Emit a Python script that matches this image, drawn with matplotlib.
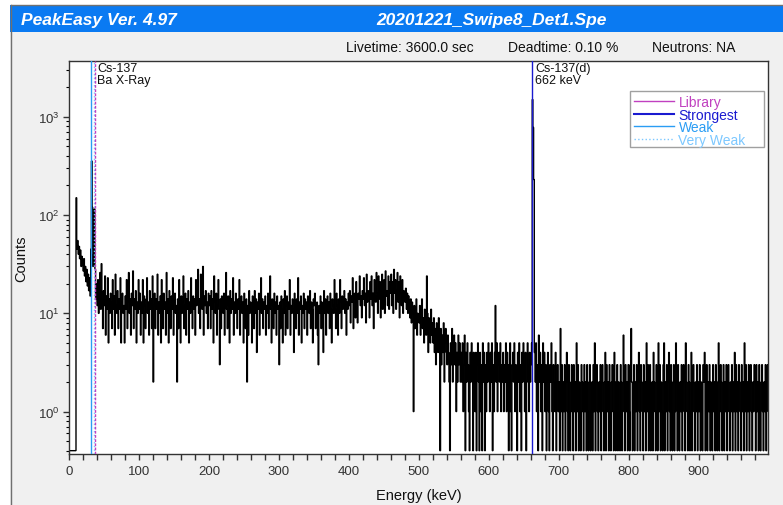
import numpy as np
import matplotlib
matplotlib.use('Agg')
import matplotlib.pyplot as plt
from matplotlib.patches import Rectangle
from matplotlib.lines import Line2D
from matplotlib.ticker import MultipleLocator, LogLocator, NullFormatter

plt.rcParams['font.family'] = ['Liberation Sans', 'DejaVu Sans']

# spectrum, 1 keV per channel (counts)
kev_per_channel = 1
counts_0_100 = [0, 0, 0, 0, 0, 0, 0, 0, 0, 0, 150, 45, 55, 40, 48, 36, 44, 30, 38, 33,
                27, 36, 24, 30, 21, 28, 19, 25, 17, 23, 15, 45, 355, 120, 30, 40, 115, 28, 14, 20,
                12, 22, 10, 16, 26, 11, 32, 14, 7, 17, 12, 24, 6, 15, 11, 23, 5, 14, 10, 16,
                13, 7, 22, 11, 15, 6, 25, 12, 10, 17, 7, 14, 11, 23, 5, 13, 16, 10, 12, 5,
                15, 11, 22, 7, 13, 26, 10, 14, 6, 16, 12, 27, 7, 14, 11, 17, 5, 13, 10, 22]
counts_100_200 = [11, 16, 6, 13, 10, 22, 5, 15, 12, 7, 14, 23, 10, 13, 6, 17, 11, 14, 7, 24,
                  2, 12, 16, 7, 14, 11, 25, 6, 13, 10, 15, 5, 22, 12, 7, 16, 11, 13, 6, 26,
                  10, 14, 5, 17, 12, 7, 15, 11, 23, 6, 13, 16, 10, 12, 2, 14, 7, 22, 11, 5,
                  15, 10, 13, 24, 7, 12, 16, 6, 14, 11, 17, 5, 13, 10, 23, 12, 7, 15, 11, 14,
                  6, 22, 12, 16, 28, 10, 14, 7, 25, 13, 11, 30, 6, 15, 12, 17, 10, 13, 7, 16]
counts_200_300 = [12, 15, 7, 17, 11, 14, 5, 24, 13, 10, 16, 6, 12, 22, 11, 3, 14, 7, 15, 12,
                  10, 16, 6, 13, 26, 11, 7, 15, 12, 5, 17, 10, 14, 11, 23, 6, 13, 10, 16, 12,
                  7, 14, 11, 22, 6, 12, 15, 10, 13, 5, 16, 11, 7, 14, 2, 12, 6, 17, 10, 13,
                  11, 5, 15, 12, 7, 17, 10, 14, 4, 13, 11, 16, 6, 12, 23, 10, 14, 7, 13, 11,
                  15, 6, 12, 10, 16, 7, 13, 24, 11, 5, 14, 12, 7, 16, 10, 13, 6, 15, 11, 12]
counts_300_400 = [3, 13, 7, 15, 11, 5, 14, 10, 17, 6, 12, 15, 7, 13, 11, 22, 6, 12, 10, 14,
                  11, 4, 16, 12, 7, 14, 10, 23, 6, 13, 11, 15, 5, 12, 10, 16, 7, 14, 11, 13,
                  6, 15, 12, 10, 17, 7, 13, 11, 5, 14, 12, 16, 7, 11, 13, 6, 3, 12, 10, 15,
                  7, 13, 11, 4, 17, 10, 14, 6, 12, 15, 10, 13, 7, 16, 11, 5, 14, 12, 10, 22,
                  11, 7, 16, 12, 6, 14, 10, 22, 13, 7, 15, 11, 12, 17, 10, 14, 6, 13, 11, 16]
counts_400_500 = [12, 17, 8, 15, 13, 23, 7, 14, 16, 9, 21, 13, 8, 16, 14, 24, 12, 15, 9, 17,
                  14, 23, 12, 16, 8, 25, 13, 17, 15, 9, 21, 14, 24, 12, 16, 7, 22, 15, 13, 26,
                  16, 10, 24, 14, 21, 9, 17, 25, 11, 16, 22, 10, 27, 15, 17, 12, 24, 11, 21, 16,
                  25, 12, 21, 10, 28, 16, 22, 11, 17, 26, 13, 21, 9, 24, 16, 12, 22, 10, 17, 15,
                  13, 18, 11, 16, 10, 15, 12, 9, 14, 8, 13, 10, 1, 12, 7, 11, 14, 6, 10, 9]
counts_500_600 = [8, 12, 6, 10, 14, 7, 9, 5, 11, 7, 6, 24, 10, 4, 9, 7, 5, 11, 6, 8,
                  5, 9, 4, 7, 3, 8, 6, 4, 9, 5, 0, 7, 3, 6, 4, 8, 2, 5, 7, 4,
                  3, 6, 4, 2, 0, 5, 3, 7, 2, 4, 6, 3, 5, 1, 4, 2, 6, 3, 5, 2,
                  4, 2, 5, 1, 3, 6, 0, 4, 2, 5, 3, 1, 0, 4, 2, 5, 3, 0, 4, 2,
                  1, 4, 0, 3, 5, 2, 0, 4, 1, 3, 0, 5, 2, 4, 0, 3, 1, 4, 2, 5]
counts_600_700 = [3, 1, 4, 2, 5, 0, 3, 1, 4, 12, 2, 5, 1, 3, 4, 2, 5, 1, 3, 2,
                  4, 1, 3, 2, 5, 1, 4, 3, 0, 2, 5, 1, 0, 3, 4, 2, 5, 1, 3, 2,
                  0, 4, 2, 5, 1, 3, 0, 4, 2, 5, 3, 1, 4, 0, 2, 5, 3, 1, 4, 2,
                  3, 5, 1500, 780, 230, 4, 2, 5, 1, 3, 0, 6, 2, 4, 1, 3, 0, 5, 2, 4,
                  1, 3, 0, 2, 4, 1, 0, 3, 2, 5, 1, 0, 3, 2, 1, 4, 0, 2, 3, 1]
counts_700_800 = [2, 0, 7, 1, 3, 0, 2, 1, 3, 0, 2, 4, 1, 0, 3, 2, 0, 1, 3, 2,
                  0, 3, 1, 2, 0, 5, 1, 3, 0, 2, 1, 0, 3, 2, 1, 0, 3, 1, 2, 0,
                  3, 1, 0, 2, 3, 0, 1, 2, 0, 3, 1, 5, 0, 2, 3, 1, 0, 2, 1, 3,
                  0, 2, 3, 1, 0, 2, 4, 0, 3, 1, 2, 0, 3, 1, 0, 2, 3, 1, 0, 4,
                  2, 0, 1, 3, 0, 2, 1, 0, 3, 2, 0, 1, 6, 2, 0, 3, 1, 2, 0, 3]
counts_800_900 = [1, 0, 3, 7, 2, 0, 1, 3, 0, 2, 1, 3, 0, 2, 4, 1, 0, 3, 2, 1,
                  0, 3, 1, 2, 0, 5, 1, 3, 0, 2, 3, 0, 1, 2, 0, 4, 2, 1, 0, 3,
                  2, 0, 5, 1, 3, 0, 2, 1, 0, 3, 5, 0, 2, 1, 3, 0, 2, 4, 1, 0,
                  3, 1, 0, 2, 3, 0, 1, 5, 2, 0, 3, 1, 0, 2, 1, 3, 0, 2, 3, 1,
                  0, 5, 2, 1, 0, 3, 2, 0, 1, 4, 0, 2, 3, 1, 0, 2, 1, 3, 0, 2]
counts_900_1000 = [1, 3, 0, 2, 1, 0, 3, 2, 4, 0, 1, 3, 0, 2, 1, 3, 0, 2, 1, 0,
                   3, 1, 2, 0, 3, 1, 0, 2, 5, 0, 1, 3, 2, 0, 1, 3, 0, 2, 1, 3,
                   0, 2, 3, 1, 0, 2, 1, 3, 0, 2, 1, 4, 0, 3, 1, 2, 0, 3, 2, 1,
                   0, 3, 1, 2, 0, 5, 1, 3, 0, 2, 1, 3, 0, 2, 3, 1, 0, 2, 1, 3,
                   2, 0, 3, 1, 2, 0, 3, 1, 0, 2, 3, 1, 0, 2, 1, 3, 0, 2, 3, 1]

# marker lines (keV)
weak_lines = [32.0]
very_weak_lines = [35.8]
library_lines = [36.8]
strongest_lines = [661.7]

peak_labels = ['Cs-137\nBa X-Ray', 'Cs-137(d)\n662 keV']
peak_label_kev = [40, 666]

info_texts = ['Livetime: 3600.0 sec', 'Deadtime: 0.10 %', 'Neutrons: NA']

W, H = 783, 506
def fx(x):
    return x / W
def fy(y):
    return 1 - y / H

counts = np.array(counts_0_100 + counts_100_200 + counts_200_300 + counts_300_400 +
                  counts_400_500 + counts_500_600 + counts_600_700 + counts_700_800 +
                  counts_800_900 + counts_900_1000, dtype=float)
edges = np.arange(len(counts) + 1) * kev_per_channel
# PeakEasy draws empty channels just above the bottom of the axis
plot_counts = np.where(counts > 0, counts, 0.4)

fig = plt.figure(figsize=(W / 100, H / 100), dpi=100)
fig.patch.set_facecolor('white')

# window panel, title bar, border
fig.patches.append(Rectangle((fx(10), 0), 1 - fx(10), fy(33), transform=fig.transFigure,
                             facecolor='#f0f0f0', edgecolor='none', zorder=-10))
fig.patches.append(Rectangle((fx(10), fy(33)), 1 - fx(10), 27 / H, transform=fig.transFigure,
                             facecolor='#0a7af2', edgecolor='none', zorder=-10))
fig.lines.append(Line2D([fx(10.5), fx(10.5)], [0, fy(6)], transform=fig.transFigure,
                        color='#707070', lw=1, zorder=-5))
fig.lines.append(Line2D([fx(10.5), 1], [fy(6), fy(6)], transform=fig.transFigure,
                        color='#707070', lw=1, zorder=-5))

fig.text(fx(21), fy(20), 'PeakEasy Ver. 4.97', color='white', fontsize=12.5,
         fontweight='bold', style='italic', va='center', ha='left')
fig.text(fx(491), fy(20), '20201221_Swipe8_Det1.Spe', color='white', fontsize=12.5,
         fontweight='bold', style='italic', va='center', ha='center')
for t, x in zip(info_texts, [410, 563, 694]):
    fig.text(fx(x), fy(48), t, fontsize=10, va='center', ha='center', color='#111111')

ax = fig.add_axes([fx(69), fy(455), (768 - 69) / W, (455 - 62) / H])
ax.set_facecolor('white')
ax.stairs(plot_counts, edges, baseline=None, color='black', lw=1.0, zorder=2)

for e in weak_lines:
    ax.axvline(e, color='#2a9df4', lw=1, zorder=3)
for e in very_weak_lines:
    ax.axvline(e, color='#7cc8ff', lw=1, ls=':', zorder=3)
for e in library_lines:
    ax.axvline(e, color='#c040c0', lw=1, ls=(0, (2, 1)), zorder=3)
for e in strongest_lines:
    ax.axvline(e, color='#1a1ad0', lw=1, zorder=3)

for lab, e in zip(peak_labels, peak_label_kev):
    ax.text(e, 0.997, lab, transform=ax.get_xaxis_transform(), fontsize=9,
            va='top', ha='left', linespacing=1.0, color='#111111')

ax.set_yscale('log')
ax.set_xlim(0, 999)
ax.set_ylim(0.37, 3700)
ax.xaxis.set_major_locator(MultipleLocator(100))
ax.xaxis.set_minor_locator(MultipleLocator(20))
ax.yaxis.set_major_locator(LogLocator(base=10))
ax.yaxis.set_minor_locator(LogLocator(base=10, subs=np.arange(2, 10)))
ax.yaxis.set_minor_formatter(NullFormatter())
ax.tick_params(axis='x', which='both', direction='out', length=4, width=1,
               labelsize=9.5, pad=4, colors='#333333')
ax.tick_params(axis='y', which='major', direction='out', length=4, width=1,
               labelsize=9.5, pad=3, colors='#333333')
ax.tick_params(axis='y', which='minor', direction='out', length=2.5, width=0.8)
for s in ax.spines.values():
    s.set_color('#333333')
    s.set_linewidth(1)

ax.set_xlabel('Energy (keV)', fontsize=10.5, labelpad=8, color='#111111')
ax.set_ylabel('Counts', fontsize=10.5, labelpad=7, color='#111111')

# legend: entries without frame, box drawn separately to match PeakEasy padding
ax_w, ax_h = 699.0, 393.0
ax.add_patch(Rectangle(((630 - 69) / ax_w, (455 - 148) / ax_h), 134 / ax_w, 56 / ax_h,
                       transform=ax.transAxes, facecolor='white', edgecolor='#a0a0a0',
                       lw=1, zorder=4))
handles = [Line2D([], [], color='#c040c0', lw=1),
           Line2D([], [], color='#1a1ad0', lw=1.5),
           Line2D([], [], color='#2a9df4', lw=1),
           Line2D([], [], color='#7cc8ff', lw=1, ls=':')]
leg = ax.legend(handles, ['Library', 'Strongest', 'Weak', 'Very Weak'],
                loc='upper left', bbox_to_anchor=((634 - 69) / ax_w, (455 - 96) / ax_h),
                fontsize=10, frameon=False, handlelength=2.9, handletextpad=0.3,
                labelspacing=-0.1, borderpad=0, borderaxespad=0, labelcolor='linecolor')
leg.set_zorder(5)

fig.savefig('out.png', dpi=100)
